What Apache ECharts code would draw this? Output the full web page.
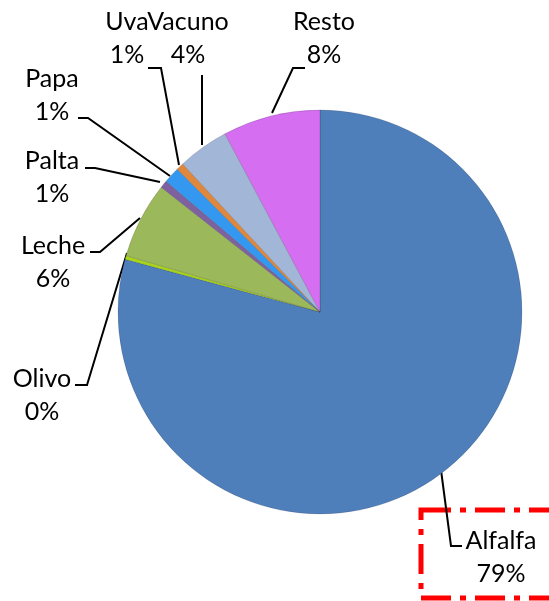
<!DOCTYPE html>
<html>
<head>
<meta charset="utf-8">
<script src="https://cdn.jsdelivr.net/npm/echarts@6/dist/echarts.min.js"></script>
<style>
  html, body { margin: 0; padding: 0; background: #fff; }
  #chart { width: 549px; height: 601px; }
</style>
</head>
<body>
<div id="chart"></div>
<script>
// values (percent of total)
var names = ['Alfalfa', 'Olivo', 'Leche', 'Palta', 'Papa', 'Uva', 'Vacuno', 'Resto'];
var values = [79.2, 0.3, 6.1, 0.6, 1.3, 0.6, 4.1, 7.8];
var colors = ['#4F7FBB', '#A8D41C', '#9BB95B', '#7E62A0', '#3598F0', '#E0873E', '#A2B7D8', '#D56EF1'];

// where each label sits and how its leader line bends
var labelPos = [
    [501, 557, [[441, 470], [451, 546], [462, 546]]],
    [42, 395, [[127, 253], [87, 385], [75, 385]]],
    [53, 262, [[140, 218], [100, 252], [90, 252]]],
    [52, 177, [[160, 182], [95, 168], [85, 168]]],
    [52, 95, [[170, 176], [88, 118], [78, 118]]],
    [127, 38, [[179, 165], [161, 68], [148, 68]]],
    [188, 38, [[202, 145], [202, 75]]],
    [324, 38, [[272, 113], [293, 68], [305, 68]]]
];

var total = values.reduce(function (a, b) { return a + b; }, 0);

var chart = echarts.init(document.getElementById('chart'));
var option = {
    animation: false,
    series: [
        {
            type: 'pie',
            center: [320, 312],
            radius: 202,
            startAngle: 90,
            clockwise: true,
            data: names.map(function (n, i) {
                return {
                    name: n,
                    value: values[i],
                    itemStyle: {color: colors[i]}
                };
            }),
            itemStyle: {
                borderColor: 'rgba(0,0,0,0.18)',
                borderWidth: 0.8
            },
            label: {
                show: true,
                color: '#000',
                fontFamily: 'Lato',
                fontSize: 25,
                lineHeight: 33,
                overflow: 'none',
                width: 120,
                align: 'center',
                formatter: function (p) {
                    return p.name + '\n' + Math.round(p.value / total * 100) + '%';
                }
            },
            labelLine: {
                show: true,
                lineStyle: {color: '#000', width: 2}
            },
            labelLayout: function (params) {
                var lp = labelPos[params.dataIndex];
                return {
                    x: lp[0],
                    y: lp[1],
                    align: 'center',
                    verticalAlign: 'middle',
                    labelLinePoints: lp[2]
                };
            }
        }
    ],
    graphic: [
        {
            type: 'rect',
            shape: {x: 421, y: 510, width: 160, height: 88},
            style: {
                fill: 'none',
                stroke: '#FF0000',
                lineWidth: 5,
                lineDash: [30, 9, 6, 9]
            }
        }
    ]
};
chart.setOption(option);
window.onresize = function () {
    chart.resize();
};
</script>
</body>
</html>
